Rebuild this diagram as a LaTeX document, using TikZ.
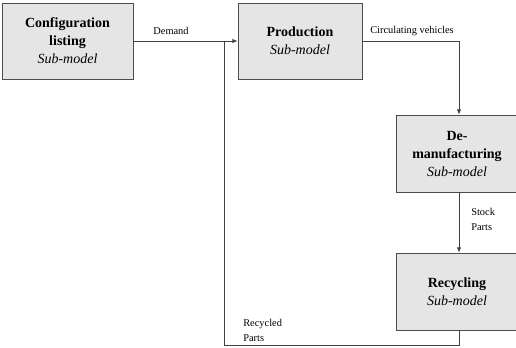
\documentclass[tikz,border=0pt]{standalone}
\usepackage{fontspec}
\setmainfont{Liberation Serif}
\usetikzlibrary{arrows.meta}

\begin{document}
\begin{tikzpicture}[x=0.75pt, y=-0.75pt,
	submodel/.style={draw=black!70, fill=black!10, align=center, inner sep=0pt,
		font=\fontsize{10.5}{13.5}\selectfont},
	flow/.style={draw=black!75, line width=0.6pt},
	tip/.style={-{Latex[length=4pt,width=3.2pt]}},
	lbl/.style={font=\fontsize{7.8}{11.2}\selectfont, align=left, inner sep=0pt}]
\useasboundingbox (0,0) rectangle (516,347);

\node[submodel, minimum width=98.25pt, minimum height=57pt] (config) at (67.5,41)
	{\textbf{Configuration}\\\textbf{listing}\\\textit{Sub-model}};
\node[submodel, minimum width=93pt, minimum height=57pt] (prod) at (300,41)
	{\textbf{Production}\\\textit{Sub-model}};
\node[submodel, minimum width=91.5pt, minimum height=57.75pt] (demanu) at (457,153.5)
	{\textbf{De-}\\\textbf{manufacturing}\\\textit{Sub-model}};
\node[submodel, minimum width=91.5pt, minimum height=57.75pt] (recyc) at (457,291.5)
	{\textbf{Recycling}\\\textit{Sub-model}};

\coordinate (join) at (224,41);
\coordinate (bend) at (459,41);
\coordinate (low) at (459,345);
\coordinate (corner) at (224,345);

\draw[flow, tip] (config.east) -- (prod.west);
\draw[flow, tip] (prod.east) -- (bend) -- (demanu.north -| bend);
\draw[flow, tip] (demanu.south -| bend) -- (recyc.north -| bend);
\draw[flow] (recyc.south -| low) -- (low) -- (corner) -- (join);

\node[lbl] (demand) at (171,31) {Demand};
\node[lbl, anchor=west] (circ) at (370,31) {Circulating vehicles};
\node[lbl, anchor=west] (stock) at (471,219.5) {Stock\\Parts};
\node[lbl, anchor=west] (recparts) at (243,330) {Recycled\\Parts};
\end{tikzpicture}
\end{document}
